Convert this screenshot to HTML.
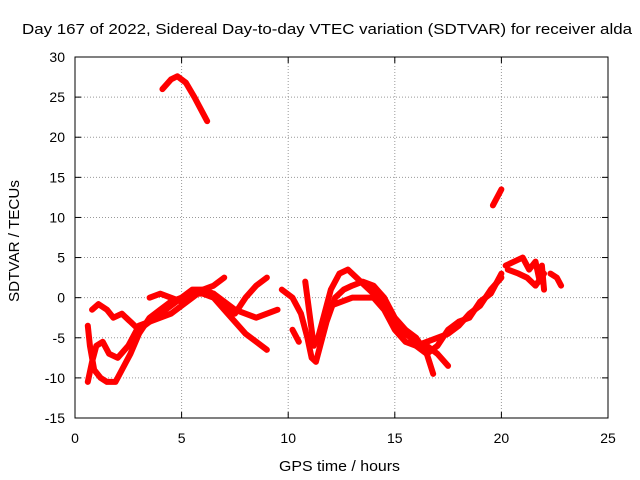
<!DOCTYPE html>
<html><head><meta charset="utf-8"><style>
html,body{margin:0;padding:0;background:#fff}
svg{display:block;font-family:"Liberation Sans",sans-serif}
</style></head><body>
<svg id="chart" width="640" height="480">
<text x="22" y="34" font-size="15" textLength="610" lengthAdjust="spacingAndGlyphs">Day 167 of 2022, Sidereal Day-to-day VTEC variation (SDTVAR) for receiver alda</text>
<text x="279" y="471" font-size="15" textLength="121" lengthAdjust="spacingAndGlyphs">GPS time / hours</text>
<text transform="translate(19,302) rotate(-90)" font-size="15" textLength="122" lengthAdjust="spacingAndGlyphs">SDTVAR / TECUs</text>
<g id="grid"></g><g id="ticks"></g><g id="series"></g>
<rect x="75" y="57" width="533" height="361" fill="none" stroke="#000"/>
</svg>
<script>
const xTicks=[0,5,10,15,20,25];
const yTicks=[-15,-10,-5,0,5,10,15,20,25,30];
const trackA=[[4.1,26],[4.5,27.2],[4.8,27.6],[5.2,26.8],[5.6,25],[6.0,23],[6.2,22]];
const trackB=[[19.6,11.5],[19.8,12.5],[20.0,13.5]];
const trackC=[[0.6,-3.5],[0.7,-6],[0.9,-9],[1.2,-10],[1.5,-10.5],[1.9,-10.5],[2.2,-9],[2.6,-7],[3.0,-4.5],[3.5,-2.5],[4.0,-1.5],[4.5,-0.5],[5.0,0],[5.5,0.5],[6.0,0.5],[6.5,0],[7.0,-1.5],[7.5,-3],[8.0,-4.5],[8.5,-5.5],[9.0,-6.5]];
const trackD=[[0.6,-10.5],[0.8,-8],[1.0,-6],[1.3,-5.5],[1.6,-7],[2.0,-7.5],[2.5,-6],[3.0,-3.5],[3.5,-3],[4.0,-2.5],[4.5,-2],[5.0,-1],[5.5,0],[6.0,1],[6.5,1.5],[7.0,2.5]];
const trackE=[[0.8,-1.5],[1.1,-0.8],[1.5,-1.5],[1.8,-2.5],[2.2,-2],[2.6,-3],[3.0,-4],[3.5,-3],[4.0,-2],[4.5,-1],[5.0,0],[5.5,1],[6.0,1],[6.5,0.5],[7.0,-0.5],[7.5,-1.5],[8.0,-2],[8.5,-2.5],[9.0,-2],[9.5,-1.5]];
const trackF=[[3.5,0],[4.0,0.5],[4.5,0],[5.0,-0.5],[5.5,0.5],[6.0,0.8],[6.5,0.5],[7.0,-1],[7.5,-2],[8.0,0],[8.5,1.5],[9.0,2.5]];
const trackG=[[9.7,1],[10.2,0],[10.6,-2],[10.9,-5],[11.1,-7.5],[11.3,-8],[11.5,-6],[11.8,-3],[12.2,0],[12.6,1],[13.0,1.5],[13.5,2],[14.0,1.5],[14.5,0],[15.0,-2.5],[15.5,-4],[16.0,-5],[16.5,-7],[16.8,-9.5]];
const trackH=[[10.8,2],[11.0,-2],[11.2,-6],[11.4,-5],[11.7,-2],[12.0,1],[12.4,3],[12.8,3.5],[13.2,2.5],[13.6,1.5],[14.0,0.5],[14.5,-1],[15.0,-3],[15.5,-4.5],[16.0,-5.5],[16.5,-6],[17.0,-7],[17.5,-8.5]];
const trackH2=[[10.2,-4],[10.5,-5.5]];
const trackI=[[12.0,-1],[12.5,-0.5],[13.0,0],[14.0,0],[14.5,-1.5],[15.0,-4],[15.5,-5.5],[16.0,-6],[16.5,-5.5],[17.0,-5],[17.5,-4.5],[18.0,-3.5],[18.5,-2],[19.0,-1],[19.5,1],[20.0,2.5]];
const trackJ=[[15.5,-4],[16,-6],[16.5,-7],[17,-6],[17.5,-4],[18,-3],[18.5,-2.5],[19,-0.5],[19.5,0.5],[20,3]];
const trackK=[[20.2,4],[20.6,4.5],[21.0,5],[21.3,3.5],[21.6,4.5],[21.8,2],[21.9,4],[22.0,1]];
const trackL=[[22.3,3],[22.6,2.5],[22.8,1.5]];
const trackM=[[20.3,3.5],[20.8,3],[21.2,2.5],[21.6,1.5],[22.0,3]];
const tracks=[trackA,trackB,trackC,trackD,trackE,trackF,trackG,trackH,trackH2,trackI,trackJ,trackK,trackL,trackM];

const X0=75,X1=608,Y0=418,Y1=57;
const xs=v=>X0+(v-0)/25*(X1-X0);
const ys=v=>Y0-(v+15)/45*(Y0-Y1);
const NS="http://www.w3.org/2000/svg";
const grid=document.getElementById('grid'),ticks=document.getElementById('ticks'),ser=document.getElementById('series');
function mk(tag,attrs,parent){const e=document.createElementNS(NS,tag);for(const k in attrs)e.setAttribute(k,attrs[k]);parent.appendChild(e);return e;}
xTicks.forEach(t=>{
  const x=xs(t);
  if(t>0&&t<25){const g=mk('line',{x1:x,x2:x,y1:Y0,y2:Y1,stroke:'#999','stroke-dasharray':'1,2'},grid);
  
  }
  mk('line',{x1:x,x2:x,y1:Y0,y2:Y0-6,stroke:'#000'},ticks);
  mk('line',{x1:x,x2:x,y1:Y1,y2:Y1+6,stroke:'#000'},ticks);
  const l=mk('text',{x:x,y:Y0+25,'text-anchor':'middle','font-size':14},ticks);l.textContent=t;
  
  
});
yTicks.forEach(t=>{
  const y=ys(t);
  if(t>-15&&t<30){const g=mk('line',{x1:X0,x2:X1,y1:y,y2:y,stroke:'#999','stroke-dasharray':'1,2'},grid);
  
  }
  mk('line',{x1:X0,x2:X0+6,y1:y,y2:y,stroke:'#000'},ticks);
  mk('line',{x1:X1,x2:X1-6,y1:y,y2:y,stroke:'#000'},ticks);
  const l=mk('text',{x:X0-10,y:y+5,'text-anchor':'end','font-size':14},ticks);l.textContent=t;
  
  
});
tracks.forEach(tr=>{
  const p=mk('polyline',{points:tr.map(d=>xs(d[0])+','+ys(d[1])).join(' '),fill:'none',stroke:'#f00','stroke-width':6,'stroke-linejoin':'round','stroke-linecap':'round'},ser);
  
  
});
</script>
</body></html>
